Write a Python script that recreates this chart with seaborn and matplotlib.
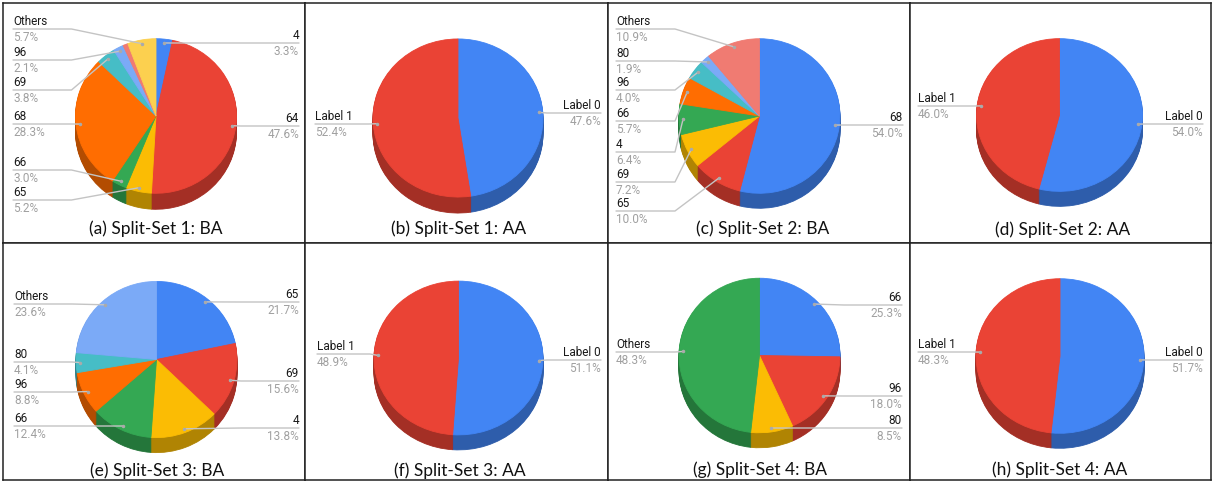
import numpy as np
import matplotlib
matplotlib.use("Agg")
import matplotlib.pyplot as plt
import matplotlib.colors as mcolors
import seaborn as sns

# slice names and shares in percent, clockwise from 12 o'clock
names_1ba = ["4", "64", "65", "66", "68", "69", "96", "80", "Others"]
vals_1ba = [3.3, 47.6, 5.2, 3.0, 28.3, 3.8, 2.1, 1.0, 5.7]
names_2ba = ["68", "65", "69", "4", "66", "96", "80", "Others"]
vals_2ba = [54.0, 10.0, 7.2, 6.4, 5.7, 4.0, 1.9, 10.9]
names_3ba = ["65", "69", "4", "66", "96", "80", "Others"]
vals_3ba = [21.7, 15.6, 13.8, 12.4, 8.8, 4.1, 23.6]
names_4ba = ["66", "96", "80", "Others"]
vals_4ba = [25.3, 18.0, 8.5, 48.3]
names_aa = ["Label 0", "Label 1"]
vals_1aa = [47.6, 52.4]
vals_2aa = [54.0, 46.0]
vals_3aa = [51.1, 48.9]
vals_4aa = [51.7, 48.3]

captions = ["(a) Split-Set 1: BA", "(b) Split-Set 1: AA", "(c) Split-Set 2: BA", "(d) Split-Set 2: AA",
            "(e) Split-Set 3: BA", "(f) Split-Set 3: AA", "(g) Split-Set 4: BA", "(h) Split-Set 4: AA"]

# google sheets default series colours
palette = sns.color_palette(["#4285F4", "#EA4335", "#FBBC04", "#34A853", "#FF6D01",
                             "#46BDC6", "#7BAAF7", "#F07B72", "#FCD04F"])

sns.set_theme(style="white")
plt.rcParams["font.family"] = ["Roboto", "DejaVu Sans"]

W, H = 1214, 483
col_edges = [3, 305, 608, 910, 1211]
row_edges = [3, 243, 480]

# layout of each panel: pie centre (px), x radius, y squish, depth,
# label sides / line heights (px), label x positions, caption centre
panels = [
    dict(names=names_1ba, vals=vals_1ba, c=(156, 116), r=80.5, sq=0.96, d=16,
         side="RRLLLLL-L", ly=[43, 126, 200, 170, 124, 90, 60, 0, 29], lx=(13, 299), cap=(156, 229)),
    dict(names=names_aa, vals=vals_1aa, c=(458, 118), r=85, sq=0.93, d=16,
         side="RL", ly=[113, 124], lx=(315, 601), cap=(459, 229)),
    dict(names=names_2ba, vals=vals_2ba, c=(759.5, 116), r=80.5, sq=0.96, d=15,
         side="RLLLLLLL", ly=[125, 211, 182, 152, 121, 90, 61, 29], lx=(616, 903), cap=(763, 229)),
    dict(names=names_aa, vals=vals_2aa, c=(1059.5, 115), r=83, sq=0.92, d=15,
         side="RL", ly=[124, 106], lx=(918, 1203), cap=(1063, 230)),
    dict(names=names_3ba, vals=vals_3ba, c=(156.5, 359.5), r=80.5, sq=0.97, d=15,
         side="RRRLLLL", ly=[302, 381, 428, 426, 392, 362, 304], lx=(14, 299), cap=(157, 471)),
    dict(names=names_aa, vals=vals_3aa, c=(458.5, 358), r=84.5, sq=0.91, d=15,
         side="RL", ly=[360, 354], lx=(317, 601), cap=(460, 471)),
    dict(names=names_4ba, vals=vals_4ba, c=(759.5, 355.5), r=80.5, sq=0.96, d=15,
         side="RRRL", ly=[305, 396, 428, 352], lx=(616, 902), cap=(760, 470)),
    dict(names=names_aa, vals=vals_4aa, c=(1060, 356), r=84, sq=0.92, d=15,
         side="RL", ly=[360, 352], lx=(918, 1203), cap=(1060, 470)),
]

fig = plt.figure(figsize=(W / 100, H / 100), dpi=100)
fig.patch.set_facecolor("white")

for i, p in enumerate(panels):
    row, col = divmod(i, 4)
    x0, x1 = col_edges[col], col_edges[col + 1]
    y0, y1 = row_edges[row], row_edges[row + 1]
    ax = fig.add_axes([x0 / W, 1 - y1 / H, (x1 - x0) / W, (y1 - y0) / H])
    sq = p["sq"]

    def X(x):
        return x - x0

    def Y(y):
        return (y1 - y) / sq

    vals = p["vals"]
    cols = palette[:len(vals)]
    dark = [tuple(np.array(mcolors.to_rgb(c)) * 0.7) for c in cols]
    cx, cy = p["c"]
    r = p["r"]

    # side of the 3d pie: stack of darker pies pushed downwards
    for k in range(p["d"], 0, -1):
        wedges, _ = ax.pie(vals, colors=dark, radius=r, center=(X(cx), Y(cy + k)),
                           startangle=90, counterclock=False, frame=True,
                           wedgeprops=dict(linewidth=0.6))
        for w in wedges:
            w.set_edgecolor(w.get_facecolor())
    wedges, _ = ax.pie(vals, colors=cols, radius=r, center=(X(cx), Y(cy)),
                       startangle=90, counterclock=False, frame=True,
                       wedgeprops=dict(linewidth=0.6))
    for w in wedges:
        w.set_edgecolor(w.get_facecolor())

    # labels with leader lines
    total = sum(vals)
    start = 0.0
    for name, v, s, ly in zip(p["names"], vals, p["side"], p["ly"]):
        mid = (start + v / 2) / total * 2 * np.pi
        start += v
        if s == "-":
            continue
        ax_x = cx + 0.95 * r * np.sin(mid)
        ax_y = cy - 0.95 * r * sq * np.cos(mid)
        if s == "L":
            knee = cx - r - 4
            tx, ha = p["lx"][0], "left"
        else:
            knee = cx + r + 4
            tx, ha = p["lx"][1], "right"
        ax.plot([X(tx), X(knee), X(ax_x)], [Y(ly), Y(ly), Y(ax_y)],
                color="#c4c4c4", lw=1.0, zorder=1.5)
        ax.plot([X(ax_x)], [Y(ax_y)], "o", ms=1.5, color="#aaaaaa", zorder=3)
        ax.text(X(tx), Y(ly - 7.5), name, ha=ha, va="center", fontsize=8.5,
                color="#1a1a1a", zorder=4)
        ax.text(X(tx), Y(ly + 8.5), f"{v:.1f}%", ha=ha, va="center", fontsize=8.5,
                color="#a0a0a0", zorder=4)

    ax.text(X(p["cap"][0]), Y(p["cap"][1]), captions[i], ha="center", va="center",
            fontsize=12.5, color="#111111",
            family=["Lato", "DejaVu Sans"], zorder=4)

    ax.set_aspect("auto")
    ax.set_xlim(0, x1 - x0)
    ax.set_ylim(0, (y1 - y0) / sq)
    ax.set_xticks([])
    ax.set_yticks([])
    ax.set_frame_on(True)
    for sp in ax.spines.values():
        sp.set_visible(True)
        sp.set_color("#222222")
        sp.set_linewidth(1.1)

fig.savefig("out.png", dpi=100, facecolor="white")
